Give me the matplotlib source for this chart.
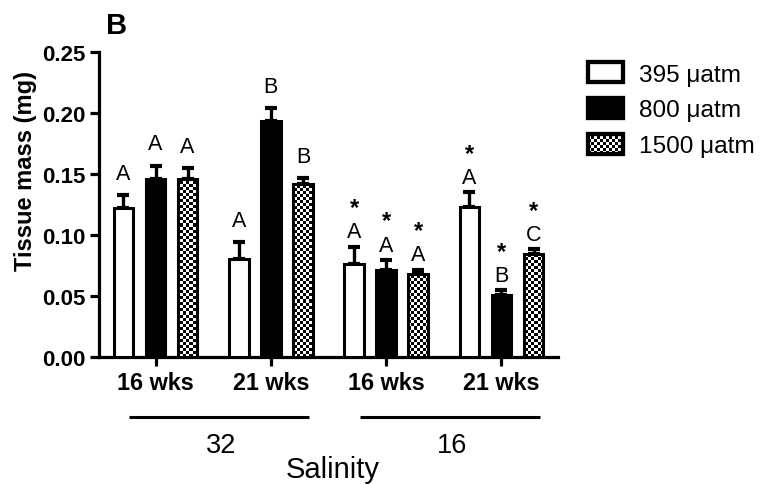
import numpy as np
import matplotlib
matplotlib.use("Agg")
import matplotlib.pyplot as plt
from matplotlib.patches import Rectangle
from matplotlib.legend_handler import HandlerBase
from matplotlib.image import BboxImage
from matplotlib.transforms import Bbox, TransformedBbox, blended_transform_factory

plt.rcParams['font.family'] = ['Liberation Sans', 'DejaVu Sans']

# ---------------- data ----------------
weeks = ['16 wks', '21 wks', '16 wks', '21 wks']
salinity_groups = ['32', '16']
salinity_members = [[0, 1], [2, 3]]
series = ['395 \u03bcatm', '800 \u03bcatm', '1500 \u03bcatm']

mean_395 = [0.1225, 0.0805, 0.0765, 0.1230]
mean_800 = [0.1455, 0.1935, 0.0717, 0.0507]
mean_1500 = [0.1460, 0.1415, 0.0681, 0.0848]
sem_395 = [0.0100, 0.0134, 0.0139, 0.0120]
sem_800 = [0.0113, 0.0102, 0.0078, 0.0042]
sem_1500 = [0.0088, 0.0051, 0.0033, 0.0036]

letters_395 = ['A', 'A', 'A', 'A']
letters_800 = ['A', 'B', 'A', 'B']
letters_1500 = ['A', 'B', 'A', 'C']
star_395 = [False, False, True, True]
star_800 = [False, False, True, True]
star_1500 = [False, False, True, True]

yticks = [0.00, 0.05, 0.10, 0.15, 0.20, 0.25]

# ---------------- figure ----------------
W, H = 760, 485
fig = plt.figure(figsize=(W / 100, H / 100), dpi=100)
ax = fig.add_axes([99 / W, 1 - 358 / H, 459 / W, 305 / H])

x = np.arange(len(weeks))
offs = [-0.278, 0.0, 0.278]
bw = 0.17
lw_edge = 2.2

means = [mean_395, mean_800, mean_1500]
sems = [sem_395, sem_800, sem_1500]
letters = [letters_395, letters_800, letters_1500]
stars = [star_395, star_800, star_1500]
faces = ['white', 'black', 'none']

ax.set_xlim(-0.49, 3.49)
ax.set_ylim(0, 0.25)

# checkerboard texture (pure styling), ~3 px cells over the axes area
ncx, ncy = 459 // 3, 305 // 3
checker = (np.add.outer(np.arange(ncy), np.arange(ncx)) % 2).astype(float)

for s in range(3):
    xs = x + offs[s]
    ax.errorbar(xs, means[s], yerr=[np.zeros(len(xs)), sems[s]], fmt='none',
                ecolor='black', elinewidth=2.4, capsize=4.3, capthick=3.0, zorder=2)
    bars = ax.bar(xs, means[s], width=bw, facecolor=faces[s], edgecolor='black',
                  linewidth=lw_edge, zorder=4 if s == 2 else 3, label=series[s])
    if s == 2:
        for p in bars.patches:
            im = ax.imshow(checker, extent=(-0.49, 3.49, 0, 0.25), cmap='gray',
                           interpolation='nearest', aspect='auto', zorder=3,
                           vmin=0, vmax=1)
            im.set_clip_path(p)
    for i in range(len(xs)):
        top = means[s][i] + sems[s][i]
        off = 15 if stars[s][i] else 22
        ax.annotate(letters[s][i], (xs[i], top), xytext=(0, off), textcoords='offset pixels',
                    ha='center', va='center', fontsize=15.5, zorder=5)
        if stars[s][i]:
            ax.annotate('*', (xs[i], top), xytext=(0, off + 24), textcoords='offset pixels',
                        ha='center', va='center', fontsize=17, fontweight='bold', zorder=5)

ax.set_xlim(-0.49, 3.49)
ax.set_ylim(0, 0.25)

for side in ['top', 'right']:
    ax.spines[side].set_visible(False)
for side in ['left', 'bottom']:
    ax.spines[side].set_linewidth(2.3)
ax.set_yticks(yticks)
ax.set_yticklabels(['%.2f' % v for v in yticks], fontsize=16, fontweight='bold')
ax.set_xticks(x)
ax.set_xticklabels(weeks, fontsize=16.8, fontweight='bold')
ax.tick_params(axis='both', direction='out', length=6.5, width=2.3)
ax.tick_params(axis='y', pad=3)
ax.tick_params(axis='x', pad=3.5)

ax.set_ylabel('Tissue mass (mg)', fontsize=17, fontweight='bold')
ax.yaxis.set_label_coords((37 - 99) / 459, (358 - 171) / 305)

# salinity group lines and labels
tr = blended_transform_factory(ax.transData, ax.transAxes)
for g, mem in enumerate(salinity_members):
    x0 = x[mem[0]] - 0.23
    x1 = x[mem[-1]] + 0.33
    ax.plot([x0, x1], [-0.197, -0.197], color='black', lw=2.2, transform=tr,
            clip_on=False, solid_capstyle='butt')
    ax.text((x[mem[0]] + x[mem[-1]]) / 2 + 0.07, -0.289, salinity_groups[g], transform=tr,
            ha='center', va='center', fontsize=19.5)
fig.text(333 / W, 1 - 470 / H, 'Salinity', ha='center', va='center', fontsize=21)

fig.text(106 / W, 1 - 12 / H, 'B', ha='left', va='top', fontsize=21, fontweight='bold')


# legend with checkerboard handle
class CheckerHandler(HandlerBase):
    def create_artists(self, legend, orig_handle, xdescent, ydescent, width, height,
                       fontsize, trans):
        r = Rectangle((-xdescent, -ydescent), width, height, facecolor='none',
                      edgecolor='black', linewidth=lw_edge * 1.4, transform=trans)
        bb = TransformedBbox(Bbox.from_bounds(-xdescent, -ydescent, width, height), trans)
        img = BboxImage(bb, cmap='gray', interpolation='nearest', norm=plt.Normalize(0, 1))
        img.set_data(np.add.outer(np.arange(7), np.arange(12)) % 2)
        return [img, r]


class RectHandler(HandlerBase):
    def create_artists(self, legend, orig_handle, xdescent, ydescent, width, height,
                       fontsize, trans):
        r = Rectangle((-xdescent, -ydescent), width, height,
                      facecolor=orig_handle.get_facecolor(),
                      edgecolor='black', linewidth=lw_edge * 1.4, transform=trans)
        return [r]


h_white = Rectangle((0, 0), 1, 1, facecolor='white')
h_black = Rectangle((0, 0), 1, 1, facecolor='black')
h_chk = Rectangle((0, 0), 1, 1, facecolor='gray')
leg = fig.legend([h_white, h_black, h_chk], series, loc='upper left',
                 bbox_to_anchor=(588 / W, 1 - 63 / H), frameon=False, fontsize=17.6,
                 handlelength=1.45, handleheight=0.9, handletextpad=0.65,
                 labelspacing=0.5, borderpad=0, borderaxespad=0,
                 handler_map={h_white: RectHandler(), h_black: RectHandler(),
                              h_chk: CheckerHandler()})

fig.savefig('out.png', dpi=100)
